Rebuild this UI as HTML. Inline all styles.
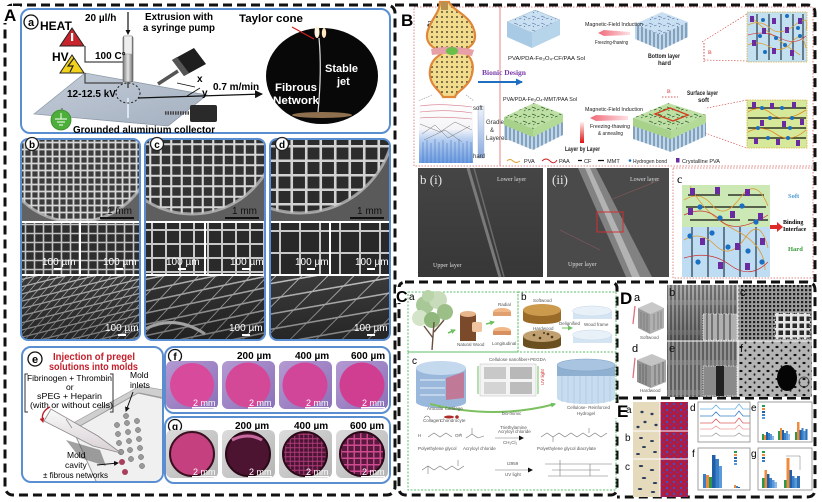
<!DOCTYPE html>
<html><head><meta charset="utf-8"><title>Figure</title>
<style>
html,body{margin:0;padding:0;background:#fff}
svg{display:block}
text{font-family:"Liberation Sans",sans-serif}
.sf{font-family:"Liberation Serif",serif}
</style></head><body>
<svg width="822" height="502" viewBox="0 0 822 502" xmlns="http://www.w3.org/2000/svg">
<defs>
<marker id="ah" markerWidth="8" markerHeight="8" refX="7" refY="4" orient="auto" markerUnits="userSpaceOnUse"><path d="M0,0 L8,4 L0,8 Z" fill="#111"/></marker>
<marker id="ahs" markerWidth="5" markerHeight="5" refX="4" refY="2.5" orient="auto" markerUnits="userSpaceOnUse"><path d="M0,0 L5,2.5 L0,5 Z" fill="#111"/></marker>
<marker id="ahr" markerWidth="5" markerHeight="5" refX="4" refY="2.5" orient="auto" markerUnits="userSpaceOnUse"><path d="M0,0 L5,2.5 L0,5 Z" fill="#c41e2a"/></marker>
<marker id="ahg" markerWidth="5" markerHeight="5" refX="4" refY="2.5" orient="auto" markerUnits="userSpaceOnUse"><path d="M0,0 L5,2.5 L0,5 Z" fill="#6cc060"/></marker>
<marker id="ahb" markerWidth="7" markerHeight="7" refX="6" refY="3.5" orient="auto" markerUnits="userSpaceOnUse"><path d="M0,0 L7,3.5 L0,7 Z" fill="#1f6fc0"/></marker>
<pattern id="g7" width="7" height="7" patternUnits="userSpaceOnUse"><rect width="7" height="7" fill="#3c3c3c"/><path d="M0 3.5H7M3.5 0V7" stroke="#d6d6d6" stroke-width="1.8"/></pattern>
<pattern id="g10" width="10.5" height="10.5" patternUnits="userSpaceOnUse"><rect width="10.5" height="10.5" fill="#333"/><path d="M0 5.25H10.5M5.25 0V10.5" stroke="#d8d8d8" stroke-width="2.1"/></pattern>
<pattern id="g14" width="14.5" height="14.5" patternUnits="userSpaceOnUse"><rect width="14.5" height="14.5" fill="#2c2c2c"/><path d="M0 7.25H14.5M7.25 0V14.5" stroke="#d2d2d2" stroke-width="2.6"/></pattern>
<pattern id="i1" width="9" height="9" patternUnits="userSpaceOnUse"><rect width="9" height="9" fill="#2e2e2e"/><path d="M0 4.5H9M4.5 0V9" stroke="#c4c4c4" stroke-width="1.6"/></pattern>
<pattern id="i2" width="14" height="14" patternUnits="userSpaceOnUse"><rect width="14" height="14" fill="#2a2a2a"/><path d="M0 7H14M7 0V14" stroke="#c8c8c8" stroke-width="2"/></pattern>
<pattern id="i3" width="20" height="22" patternUnits="userSpaceOnUse"><rect width="20" height="22" fill="#282828"/><path d="M0 4H20M10 0V22" stroke="#c8c8c8" stroke-width="2"/></pattern>
<pattern id="t1" width="10" height="7" patternUnits="userSpaceOnUse" patternTransform="rotate(-14) skewX(-55)"><rect width="10" height="7" fill="#3a3a3a"/><path d="M0 3.5H10M5 0V7" stroke="#b8b8b8" stroke-width="1.3"/></pattern>
<pattern id="t2" width="22" height="11" patternUnits="userSpaceOnUse" patternTransform="rotate(-12) skewX(-55)"><rect width="22" height="11" fill="#333"/><path d="M0 5.5H22M11 0V11" stroke="#b0b0b0" stroke-width="1.5"/></pattern>
<pattern id="t3" width="32" height="15" patternUnits="userSpaceOnUse" patternTransform="rotate(-10) skewX(-55)"><rect width="32" height="15" fill="#3a3a3a"/><path d="M0 7.5H32M16 0V15" stroke="#c0c0c0" stroke-width="1.5"/></pattern>
<pattern id="pg1" width="4.5" height="4.5" patternUnits="userSpaceOnUse"><rect width="4.5" height="4.5" fill="#4a1434"/><path d="M0 2.25H4.5M2.25 0V4.5" stroke="#b03a78" stroke-width="0.9"/></pattern>
<pattern id="pg2" width="6.5" height="6.5" patternUnits="userSpaceOnUse"><rect width="6.5" height="6.5" fill="#5a1a40"/><path d="M0 3.25H6.5M3.25 0V6.5" stroke="#d04a90" stroke-width="1.4"/></pattern>
<pattern id="vl" width="4" height="10" patternUnits="userSpaceOnUse"><rect width="4" height="10" fill="#bcd8ee"/><path d="M2 0V10" stroke="#3a4a66" stroke-width="0.8"/></pattern>
<pattern id="fibB" width="9" height="7" patternUnits="userSpaceOnUse"><rect width="9" height="7" fill="#c9e0f2"/><path d="M1 2L5 3.5M6 5L8.5 4M2 6L3 5" stroke="#4a6a9a" stroke-width="0.6"/></pattern>
<pattern id="fibG" width="9" height="7" patternUnits="userSpaceOnUse"><rect width="9" height="7" fill="#bfe0a4"/><path d="M1 2L5 3.5M6 5L8.5 4M2 6L3.5 5" stroke="#2f5f2f" stroke-width="0.7"/></pattern>
<pattern id="dots" width="5" height="5" patternUnits="userSpaceOnUse"><rect width="5" height="5" fill="#f2dc8c"/><circle cx="2" cy="2" r="0.9" fill="#2a2a1a"/></pattern>
<pattern id="spk" width="4" height="30" patternUnits="userSpaceOnUse"><rect width="4" height="30" fill="#8c8c8c"/><path d="M1 0V30" stroke="#d0d0d0" stroke-width="0.9"/><path d="M3 5V30" stroke="#4a4a4a" stroke-width="0.8"/></pattern>
<pattern id="hol" width="4" height="4" patternUnits="userSpaceOnUse"><rect width="4" height="4" fill="#cfcfcf"/><rect x="1" y="1" width="2.2" height="2.2" fill="#2a2a2a"/></pattern>
<pattern id="hol2" width="7" height="7" patternUnits="userSpaceOnUse"><rect width="7" height="7" fill="#e4e4e4"/><rect x="1.5" y="1.5" width="4.5" height="4.5" fill="#2a2a2a"/></pattern>
<pattern id="spots" width="9" height="8" patternUnits="userSpaceOnUse"><rect width="9" height="8" fill="#b4b4b4"/><ellipse cx="3" cy="3" rx="1.6" ry="1.1" fill="#111"/><ellipse cx="7.5" cy="6.5" rx="1" ry="1.3" fill="#222"/></pattern>
<pattern id="cells" width="7" height="6" patternUnits="userSpaceOnUse"><rect width="7" height="6" fill="#b01c40"/><circle cx="2" cy="2" r="1.2" fill="#3c52c8"/><circle cx="5.5" cy="4.5" r="1" fill="#5a3aa8"/></pattern>
<linearGradient id="syr" x1="0" x2="1"><stop offset="0" stop-color="#7a7a7a"/><stop offset=".5" stop-color="#e6e6e6"/><stop offset="1" stop-color="#6a6a6a"/></linearGradient>
<linearGradient id="plate" x1="0" y1="0" x2="1" y2="1"><stop offset="0" stop-color="#c3ccd8"/><stop offset="1" stop-color="#a4b0c0"/></linearGradient>
<linearGradient id="layer" x1="0" y1="0" x2="0" y2="1"><stop offset="0" stop-color="#fff"/><stop offset=".45" stop-color="#f5f5f8"/><stop offset=".62" stop-color="#b7cff0"/><stop offset="1" stop-color="#6c9ce0"/></linearGradient>
<linearGradient id="gbar" x1="0" y1="0" x2="0" y2="1"><stop offset="0" stop-color="#eef4fc"/><stop offset="1" stop-color="#88aadd"/></linearGradient>
<linearGradient id="redbar" x1="0" y1="0" x2="0" y2="1"><stop offset="0" stop-color="#fff0f0"/><stop offset="1" stop-color="#e01010"/></linearGradient>
<linearGradient id="pinkarr" x1="0" x2="1"><stop offset="0" stop-color="#f06878"/><stop offset="1" stop-color="#fde0e4"/></linearGradient>
<linearGradient id="fbg" x1="0" y1="0" x2="1" y2="1"><stop offset="0" stop-color="#b49ad2"/><stop offset="1" stop-color="#8a70b8"/></linearGradient>
<linearGradient id="gbg" x1="0" y1="0" x2="1" y2="1"><stop offset="0" stop-color="#dcdcdc"/><stop offset="1" stop-color="#b4b4b4"/></linearGradient>
<linearGradient id="semb" x1="0" y1="0" x2="0" y2="1"><stop offset="0" stop-color="#000" stop-opacity="0"/><stop offset="1" stop-color="#000" stop-opacity=".35"/></linearGradient>
<linearGradient id="pip" x1="0" y1="0" x2="0" y2="1"><stop offset="0" stop-color="#fafafa"/><stop offset="1" stop-color="#d8d0d4"/></linearGradient>
</defs>

<!-- ================= Panel A ================= -->
<rect x="5" y="5" width="390" height="490" rx="8" fill="none" stroke="#111" stroke-width="3" stroke-dasharray="9 5"/>
<rect x="3" y="6" width="17" height="17" fill="#fff"/>
<text x="4" y="21" font-size="17" font-weight="bold">A</text>

<!-- a -->
<rect x="21" y="9" width="369" height="124" rx="9" fill="#fff" stroke="#5b8ed0" stroke-width="2"/>
<circle cx="31" cy="22" r="7" fill="#fff" stroke="#111" stroke-width="1.3"/>
<text x="31" y="26" font-size="11" font-weight="bold" text-anchor="middle">a</text>
<text x="40" y="30" font-size="12" font-weight="bold">HEAT</text>
<polygon points="72,28 60,46 84,46" fill="#c8242b" stroke="#222" stroke-width="1"/>
<rect x="71" y="33" width="2.2" height="8" fill="#fff"/>
<text x="52" y="61" font-size="12" font-weight="bold">HV</text>
<polygon points="72,55 60,73 84,73" fill="#f2d21b" stroke="#222" stroke-width="1"/>
<path d="M74,58 L68,66 L73,66 L70,72" fill="none" stroke="#222" stroke-width="1.2"/>
<!-- plate -->
<polygon points="34,114 85,73 207,95 168,126" fill="url(#plate)" stroke="#8e9aa8" stroke-width="0.8"/>
<path d="M85 46V62H123M85 73V83H123" fill="none" stroke="#444" stroke-width="1.2"/>
<line x1="128" y1="98" x2="128" y2="118" stroke="#dbe6f2" stroke-width="2"/>
<rect x="123" y="36" width="10" height="46" rx="2" fill="url(#syr)" stroke="#555" stroke-width="0.6"/>
<rect x="124" y="36" width="8" height="18" fill="#eee" stroke="#999" stroke-width="0.5"/>
<rect x="127" y="82" width="2" height="6" fill="#666"/>
<line x1="128" y1="12" x2="128" y2="34" stroke="#111" stroke-width="1.2" marker-end="url(#ahs)"/>
<text x="85" y="21" font-size="10" font-weight="bold">20 µl/h</text>
<text x="145" y="20" font-size="10" font-weight="bold" textLength="68" lengthAdjust="spacingAndGlyphs">Extrusion with</text>
<text x="143" y="31" font-size="10" font-weight="bold" textLength="72" lengthAdjust="spacingAndGlyphs">a syringe pump</text>
<text x="95" y="59" font-size="10" font-weight="bold">100 C°</text>
<text x="67" y="97" font-size="10" font-weight="bold">12-12.5 kV</text>
<ellipse cx="128" cy="93" rx="12" ry="10" fill="none" stroke="#222" stroke-width="1" stroke-dasharray="2 2"/>
<line x1="138" y1="98" x2="262" y2="94" stroke="#111" stroke-width="1.2" marker-end="url(#ah)"/>
<line x1="158" y1="84" x2="178" y2="71" stroke="#555" stroke-width="3.5"/>
<polygon points="172,60 194,48 206,64 184,76" fill="#1e1e1e"/>
<polygon points="172,60 177,57 189,73 184,76" fill="#555"/>
<line x1="165" y1="113" x2="191" y2="113" stroke="#444" stroke-width="3.5" stroke-dasharray="1.5 1"/>
<rect x="190" y="105" width="27" height="17" rx="2" fill="#2a2a2a"/>
<line x1="177" y1="83" x2="195" y2="87" stroke="#111" stroke-width="0.8"/>
<line x1="187" y1="96" x2="200" y2="88" stroke="#111" stroke-width="0.8"/>
<text x="197" y="82" font-size="10" font-weight="bold">x</text>
<text x="202" y="96" font-size="10" font-weight="bold">y</text>
<text x="213" y="90" font-size="10" font-weight="bold">0.7 m/min</text>
<line x1="62" y1="108" x2="62" y2="112" stroke="#555" stroke-width="1"/>
<circle cx="61" cy="120" r="10" fill="#4caf3a" stroke="#3a8a2a" stroke-width="0.8"/>
<path d="M61 113V119M55 119H67M57 122H65M59 125H63" stroke="#fff" stroke-width="1"/>
<text x="73" y="133" font-size="10" font-weight="bold" textLength="142" lengthAdjust="spacingAndGlyphs">Grounded aluminium collector</text>
<ellipse cx="322" cy="76" rx="56" ry="48" fill="#080808"/>
<ellipse cx="322" cy="115" rx="30" ry="3" fill="#b08a60" opacity=".8"/>
<path d="M319 38 Q322 70 318 112" stroke="#e0e0e0" stroke-width="1.2" fill="none"/>
<ellipse cx="317" cy="32" rx="2.5" ry="6" fill="#fff4dc"/>
<ellipse cx="324" cy="33" rx="2.2" ry="5" fill="#ffe8c0"/>
<line x1="292" y1="27" x2="314" y2="39" stroke="#d02020" stroke-width="1.2"/>
<text x="239" y="22" font-size="11" font-weight="bold" textLength="64" lengthAdjust="spacingAndGlyphs">Taylor cone</text>
<text x="325" y="72" font-size="11" font-weight="bold" fill="#fff">Stable</text>
<text x="337" y="85" font-size="11" font-weight="bold" fill="#fff">jet</text>
<text x="275" y="91" font-size="11" font-weight="bold" fill="#fff" textLength="42" lengthAdjust="spacingAndGlyphs">Fibrous</text>
<text x="273" y="104" font-size="11" font-weight="bold" fill="#fff" textLength="46" lengthAdjust="spacingAndGlyphs">Network</text>

<!-- b -->
<g transform="translate(21,139)">
<clipPath id="cpb"><rect width="119" height="201" rx="7"/></clipPath>
<g clip-path="url(#cpb)">
<rect width="119" height="201" fill="#626262"/>
<circle cx="55" cy="5" r="78" fill="url(#g7)" stroke="#c8c8c8" stroke-width="3" stroke-opacity=".7"/>
<rect y="82" width="119" height="55" fill="url(#i1)"/>
<path d="M0 83H119M0 136H119M59 83V136" stroke="#fff" stroke-width="2"/>
<rect y="137" width="119" height="64" fill="url(#t1)"/>
<rect y="137" width="119" height="64" fill="url(#semb)"/>
</g>
<rect width="119" height="201" rx="7" fill="none" stroke="#5b8ed0" stroke-width="2"/>
<circle cx="11" cy="5" r="6.5" fill="#fff" stroke="#222" stroke-width="1.3"/>
<text x="11" y="9" font-size="10" font-weight="bold" text-anchor="middle">b</text>
<text x="86" y="75" font-size="10" fill="#111">1 mm</text>
<rect x="79" y="78" width="34" height="2" fill="#111"/>
<text x="21" y="126" font-size="10" fill="#fff">100 µm</text><rect x="33" y="129" width="8" height="2" fill="#fff"/>
<text x="82" y="126" font-size="10" fill="#fff">100 µm</text><rect x="94" y="129" width="8" height="2" fill="#fff"/>
<text x="84" y="192" font-size="10" fill="#fff">100 µm</text><rect x="97" y="195" width="8" height="2" fill="#fff"/>
</g>

<!-- c -->
<g transform="translate(145,139)">
<clipPath id="cpc"><rect width="120" height="201" rx="7"/></clipPath>
<g clip-path="url(#cpc)">
<rect width="120" height="201" fill="#5e5e5e"/>
<circle cx="47" cy="-11" r="86" fill="url(#g10)" stroke="#c8c8c8" stroke-width="3" stroke-opacity=".7"/>
<rect y="82" width="120" height="55" fill="url(#i2)"/>
<path d="M0 83H120M0 136H120M60 83V136" stroke="#fff" stroke-width="2"/>
<rect y="137" width="120" height="64" fill="url(#t2)"/>
<path d="M0 190 Q30 175 60 195" stroke="#ddd" stroke-width="3" fill="none"/>
<rect y="137" width="120" height="64" fill="url(#semb)"/>
</g>
<rect width="120" height="201" rx="7" fill="none" stroke="#5b8ed0" stroke-width="2"/>
<circle cx="12" cy="5" r="6.5" fill="#fff" stroke="#222" stroke-width="1.3"/>
<text x="12" y="9" font-size="10" font-weight="bold" text-anchor="middle">c</text>
<text x="87" y="75" font-size="10" fill="#111">1 mm</text>
<rect x="80" y="78" width="34" height="2" fill="#111"/>
<text x="21" y="126" font-size="10" fill="#fff">100 µm</text><rect x="33" y="129" width="8" height="2" fill="#fff"/>
<text x="85" y="126" font-size="10" fill="#fff">100 µm</text><rect x="97" y="129" width="8" height="2" fill="#fff"/>
<text x="84" y="192" font-size="10" fill="#fff">100 µm</text><rect x="97" y="195" width="8" height="2" fill="#fff"/>
</g>

<!-- d -->
<g transform="translate(270,139)">
<clipPath id="cpd"><rect width="120" height="201" rx="7"/></clipPath>
<g clip-path="url(#cpd)">
<rect width="120" height="201" fill="#5a5a5a"/>
<circle cx="30" cy="-21" r="95" fill="url(#g14)" stroke="#c8c8c8" stroke-width="3" stroke-opacity=".7"/>
<rect y="82" width="120" height="55" fill="url(#i3)"/>
<path d="M0 83H120M0 136H120M60 83V136" stroke="#fff" stroke-width="2"/>
<rect y="137" width="120" height="64" fill="url(#t3)"/>
<rect y="137" width="120" height="64" fill="url(#semb)"/>
</g>
<rect width="120" height="201" rx="7" fill="none" stroke="#5b8ed0" stroke-width="2"/>
<circle cx="12" cy="5" r="6.5" fill="#fff" stroke="#222" stroke-width="1.3"/>
<text x="12" y="9" font-size="10" font-weight="bold" text-anchor="middle">d</text>
<text x="87" y="75" font-size="10" fill="#111">1 mm</text>
<rect x="80" y="78" width="34" height="2" fill="#111"/>
<text x="25" y="126" font-size="10" fill="#fff">100 µm</text><rect x="37" y="129" width="8" height="2" fill="#fff"/>
<text x="85" y="126" font-size="10" fill="#fff">100 µm</text><rect x="97" y="129" width="8" height="2" fill="#fff"/>
<text x="84" y="192" font-size="10" fill="#fff">100 µm</text><rect x="97" y="195" width="8" height="2" fill="#fff"/>
</g>

<!-- e -->
<rect x="22" y="347" width="141" height="135" rx="9" fill="#fff" stroke="#5b8ed0" stroke-width="2"/>
<clipPath id="cpe"><rect x="23" y="348" width="139" height="133" rx="8"/></clipPath>
<g clip-path="url(#cpe)">
<polygon points="75,422 140,386 170,391 170,399 140,393 73,430" fill="#cfcfcf" stroke="#999" stroke-width="0.6"/>
<polygon points="73,430 138,393 170,400 170,490 100,490" fill="#f0f0f0" stroke="#999" stroke-width="1"/>
<polygon points="66,440 100,450 106,466 80,458" fill="#555" opacity=".55"/>
<g fill="#9a9a9a" stroke="#666" stroke-width="0.5">
<circle cx="126" cy="416" r="2.6"/>
<circle cx="117" cy="425" r="2.6"/><circle cx="127" cy="423" r="2.6"/><circle cx="137" cy="421" r="2.6"/>
<circle cx="118" cy="434" r="2.6"/><circle cx="128" cy="432" r="2.6"/><circle cx="138" cy="430" r="2.6"/>
<circle cx="119" cy="443" r="2.6"/><circle cx="129" cy="441" r="2.6"/><circle cx="139" cy="439" r="2.6"/>
<circle cx="130" cy="450" r="2.6"/><circle cx="140" cy="448" r="2.6"/>
<circle cx="131" cy="459" r="2.6"/><circle cx="141" cy="457" r="2.6"/>
<circle cx="142" cy="466" r="2.6"/>
</g>
<circle cx="121" cy="452" r="2.8" fill="#9a9a9a" stroke="#666" stroke-width="0.5"/>
<circle cx="122" cy="462" r="3" fill="#a8405c"/>
<circle cx="125" cy="472" r="3" fill="#a8405c"/>
</g>
<polygon points="44,421 51,409 98,436 121,453 93,446" fill="url(#pip)" stroke="#8a8a8a" stroke-width="0.8"/>
<path d="M66 419L72 428" stroke="#888" stroke-width="0.7"/>
<path d="M50 407 Q40 412 43 422" fill="none" stroke="#c41e2a" stroke-width="1.3" marker-end="url(#ahr)"/>
<circle cx="35" cy="359" r="7" fill="#fff" stroke="#111" stroke-width="1.3"/>
<text x="35" y="363" font-size="11" font-weight="bold" text-anchor="middle">e</text>
<text x="53" y="360" font-size="10" font-weight="bold" fill="#c41e2a" textLength="82" lengthAdjust="spacingAndGlyphs">Injection of pregel</text>
<text x="49" y="370" font-size="10" font-weight="bold" fill="#c41e2a" textLength="89" lengthAdjust="spacingAndGlyphs">solutions into molds</text>
<path d="M28 374H25V412H28M110 374H113V412H110" fill="none" stroke="#333" stroke-width="1"/>
<text x="27" y="381" font-size="8.5" textLength="85" lengthAdjust="spacingAndGlyphs">Fibrinogen + Thrombin</text>
<text x="66" y="390" font-size="8.5">or</text>
<text x="37" y="399" font-size="8.5" textLength="65" lengthAdjust="spacingAndGlyphs">sPEG + Heparin</text>
<text x="30" y="408" font-size="8.5" textLength="83" lengthAdjust="spacingAndGlyphs">(with or without cells)</text>
<text x="130" y="378" font-size="8.5">Mold</text>
<text x="130" y="388" font-size="8.5">inlets</text>
<line x1="133" y1="392" x2="126" y2="411" stroke="#111" stroke-width="1" marker-end="url(#ahs)"/>
<line x1="97" y1="465" x2="118" y2="463" stroke="#111" stroke-width="1" marker-end="url(#ahs)"/>
<text x="67" y="458" font-size="8.5">Mold</text>
<text x="65" y="468" font-size="8.5">cavity</text>
<text x="43" y="478" font-size="8.5" textLength="65" lengthAdjust="spacingAndGlyphs">± fibrous networks</text>

<!-- f -->
<rect x="165" y="347" width="225" height="66" rx="9" fill="#fff" stroke="#5b8ed0" stroke-width="2"/>
<circle cx="175" cy="356" r="6.5" fill="#fff" stroke="#111" stroke-width="1.3"/>
<text x="175" y="360" font-size="10" font-weight="bold" text-anchor="middle">f</text>
<text x="237" y="359" font-size="10" font-weight="bold">200 µm</text>
<text x="295" y="359" font-size="10" font-weight="bold">400 µm</text>
<text x="351" y="359" font-size="10" font-weight="bold">600 µm</text>
<g>
<rect x="166" y="361" width="52" height="48" rx="6" fill="url(#fbg)"/><circle cx="192" cy="385" r="22" fill="#d84a9c"/>
<rect x="222" y="361" width="53" height="48" rx="6" fill="url(#fbg)"/><circle cx="248" cy="385" r="22.5" fill="#d44898"/>
<rect x="279" y="361" width="53" height="48" rx="6" fill="url(#fbg)"/><circle cx="305" cy="385" r="22.5" fill="#d2469a"/>
<rect x="336" y="361" width="52" height="48" rx="6" fill="url(#fbg)"/><circle cx="362" cy="385" r="22.5" fill="#d03e92"/>
</g>
<g font-size="9" fill="#fff">
<text x="193" y="406">2 mm</text><rect x="192" y="407" width="24" height="1.5" fill="#fff"/>
<text x="249" y="406">2 mm</text><rect x="248" y="407" width="24" height="1.5" fill="#fff"/>
<text x="306" y="406">2 mm</text><rect x="305" y="407" width="24" height="1.5" fill="#fff"/>
<text x="362" y="406">2 mm</text><rect x="361" y="407" width="24" height="1.5" fill="#fff"/>
</g>

<!-- g -->
<rect x="165" y="417" width="225" height="66" rx="9" fill="#fff" stroke="#5b8ed0" stroke-width="2"/>
<circle cx="175" cy="426" r="6.5" fill="#fff" stroke="#111" stroke-width="1.3"/>
<text x="175" y="430" font-size="10" font-weight="bold" text-anchor="middle">g</text>
<text x="235" y="429" font-size="10" font-weight="bold">200 µm</text>
<text x="294" y="429" font-size="10" font-weight="bold">400 µm</text>
<text x="350" y="429" font-size="10" font-weight="bold">600 µm</text>
<rect x="166" y="430" width="52" height="48" rx="6" fill="url(#gbg)"/>
<circle cx="192" cy="454" r="22" fill="#c4407e" stroke="#3a1020" stroke-width="2"/>
<rect x="222" y="430" width="53" height="48" rx="6" fill="url(#gbg)"/>
<circle cx="248" cy="454" r="22" fill="#4c1430" stroke="#2a0a18" stroke-width="2"/>
<path d="M232 440 Q248 432 262 440" stroke="#c86aa0" stroke-width="3" fill="none"/>
<rect x="279" y="430" width="53" height="48" rx="6" fill="url(#gbg)"/>
<circle cx="305" cy="454" r="22" fill="url(#pg1)" stroke="#2a0a18" stroke-width="2"/>
<rect x="336" y="430" width="52" height="48" rx="6" fill="url(#gbg)"/>
<circle cx="362" cy="454" r="22" fill="url(#pg2)" stroke="#2a0a18" stroke-width="2"/>
<g font-size="9" fill="#fff">
<text x="193" y="475">2 mm</text><rect x="192" y="476" width="24" height="1.5" fill="#fff"/>
<text x="249" y="475">2 mm</text><rect x="248" y="476" width="24" height="1.5" fill="#fff"/>
<text x="306" y="475">2 mm</text><rect x="305" y="476" width="24" height="1.5" fill="#fff"/>
<text x="362" y="475">2 mm</text><rect x="361" y="476" width="24" height="1.5" fill="#fff"/>
</g>

<!-- ================= Panel B ================= -->
<path d="M395 5H807Q815 5 815 13V282" fill="none" stroke="#111" stroke-width="3" stroke-dasharray="9 5"/>
<text x="401" y="26" font-size="17" font-weight="bold">B</text>
<rect x="414" y="7" width="399" height="159" fill="none" stroke="#e08a8a" stroke-width="1" stroke-dasharray="1.5 1.5"/>
<line x1="500" y1="7" x2="500" y2="166" stroke="#e07a7a" stroke-width="0.9"/>
<text x="427" y="27" font-size="13" class="sf">a</text>
<!-- joint -->
<path d="M440,2 L449,2 C452,10 470,15 474,30 C478,42 470,48 462,51 C472,56 476,66 470,80 C464,90 456,92 455,97 L443,97 C440,90 428,85 430,70 C431,60 438,56 444,52 C432,49 424,42 428,30 C432,18 440,12 440,2 Z" fill="url(#dots)" stroke="#e0883a" stroke-width="2.2"/>
<path d="M431 49 Q452 44 474 50 L472 56 Q452 52 432 55 Z" fill="#e8a0a8"/>
<ellipse cx="452" cy="51" rx="6" ry="4" fill="#6abf4a"/>
<rect x="441" y="2" width="7" height="8" fill="#b89050"/>
<path d="M432 95L418 101M466 95L474 101" stroke="#999" stroke-width="0.6" stroke-dasharray="1.5 1"/>
<rect x="419" y="101" width="54" height="62" fill="url(#layer)"/>
<path d="M420 106Q440 103 472 107M420 112Q446 109 472 113M420 118Q440 116 472 119" stroke="#d47a8a" stroke-width="0.6" fill="none"/>
<path d="M420 124L440 132L455 122L472 130M422 134L435 125L448 138L470 126M424 140L445 130L462 142" stroke="#777" stroke-width="0.5" fill="none"/>
<path d="M423 163V142M427 163V140M431 163V143M435 163V139M439 163V142M443 163V140M447 163V143M451 163V140M455 163V142M459 163V139M463 163V143M467 163V141M471 163V142" stroke="#3a6ac0" stroke-width="0.5"/>
<rect x="478" y="106" width="6" height="52" fill="url(#gbar)" stroke="#aac" stroke-width="0.4"/>
<g class="sf" font-size="6" fill="#333">
<text x="473" y="110">soft</text>
<text x="486" y="124">Gradient</text><text x="490" y="132">&amp;</text><text x="486" y="140">Layered</text>
<text x="473" y="158">hard</text>
</g>
<text x="482" y="75" class="sf" font-size="7.5" font-weight="bold" fill="#7a3aa8">Bionic  Design</text>
<line x1="478" y1="82" x2="522" y2="82" stroke="#1f6fc0" stroke-width="2" marker-end="url(#ahb)"/>
<!-- blocks -->
<polygon points="507,22 535,10 560,20 532,33" fill="url(#fibB)" stroke="#8ab" stroke-width="0.4"/>
<polygon points="507,22 532,33 532,48 507,37" fill="#a8cae4"/>
<polygon points="532,33 560,20 560,35 532,48" fill="#b6d4ea"/>
<polygon points="635,24 662,12 688,22 661,35" fill="url(#fibB)"/>
<polygon points="635,24 661,35 661,50 635,39" fill="url(#vl)"/>
<polygon points="661,35 688,22 688,37 661,50" fill="url(#vl)"/>
<polygon points="504,117 534,103 563,114 533,129" fill="url(#fibG)"/>
<polygon points="504,117 533,129 533,150 504,138" fill="url(#vl)"/>
<polygon points="533,129 563,114 563,135 533,150" fill="url(#vl)"/>
<polygon points="504,117 533,129 533,137 504,125" fill="#a8d28a"/>
<polygon points="533,129 563,114 563,122 533,137" fill="#b4da98"/>
<polygon points="633,118 668,103 706,115 671,131" fill="url(#fibG)"/>
<polygon points="633,118 671,131 671,152 633,139" fill="url(#vl)"/>
<polygon points="671,131 706,115 706,136 671,152" fill="url(#vl)"/>
<polygon points="633,118 671,131 671,139 633,126" fill="#a8d28a"/>
<polygon points="671,131 706,115 706,123 671,139" fill="#b4da98"/>
<polygon points="655,114 670,108 688,115 673,121" fill="none" stroke="#d04020" stroke-width="1.4"/>
<g class="sf" font-size="5.6" fill="#222">
<text x="508" y="60" textLength="77" lengthAdjust="spacingAndGlyphs">PVA/PDA-Fe₃O₄-CF/PAA Sol</text>
<text x="585" y="26" textLength="58" lengthAdjust="spacingAndGlyphs">Magnetic-Field Induction</text>
<text x="595" y="44" textLength="33" lengthAdjust="spacingAndGlyphs">Freezing-thawing</text>
<text x="503" y="101" textLength="74" lengthAdjust="spacingAndGlyphs">PVA/PDA-Fe₃O₄-MMT/PAA Sol</text>
<text x="585" y="111" textLength="58" lengthAdjust="spacingAndGlyphs">Magnetic-Field Induction</text>
<text x="590" y="128" textLength="40" lengthAdjust="spacingAndGlyphs">Freezing-thawing</text>
<text x="598" y="135" textLength="25" lengthAdjust="spacingAndGlyphs">&amp; annealing</text>
</g>
<g class="sf" font-size="6" font-weight="bold" fill="#222">
<text x="648" y="58" textLength="32" lengthAdjust="spacingAndGlyphs">Bottom layer</text>
<text x="658" y="65">hard</text>
<text x="565" y="151" textLength="35" lengthAdjust="spacingAndGlyphs">Layer by Layer</text>
<text x="687" y="95" textLength="31" lengthAdjust="spacingAndGlyphs">Surface layer</text>
<text x="698" y="102">soft</text>
</g>
<polygon points="598,33 604,30 630,32 630,35 604,36" fill="url(#pinkarr)"/>
<polygon points="590,118 596,115 628,116 628,120 596,121" fill="url(#pinkarr)"/>
<rect x="580" y="122" width="4" height="21" fill="url(#redbar)"/>
<line x1="704" y1="43" x2="704" y2="62" stroke="#d02020" stroke-width="0.8" stroke-dasharray="1.5 1.5"/>
<text x="708" y="54" class="sf" font-size="5.5" fill="#d02020">B</text>
<line x1="662" y1="97" x2="678" y2="97" stroke="#d02020" stroke-width="0.8" stroke-dasharray="1.5 1.5"/>
<text x="667" y="93" class="sf" font-size="5.5" fill="#d02020">B</text>
<path d="M702 42L747 14M704 60L747 61M707 108L747 100M705 133L747 148" stroke="#d04040" stroke-width="0.6" stroke-dasharray="1.5 1.5"/>
<!-- insets -->
<rect x="747" y="12" width="60" height="50" fill="#c2e0f0" stroke="#d8b040" stroke-width="0.8" stroke-dasharray="1.5 1"/>
<path d="M757 14V60M769 14V60M781 14V60M793 14V60M803 14V60" stroke="#1a2a3a" stroke-width="1.1"/>
<path d="M748 25Q760 19 770 28T795 25T806 30M748 45Q758 40 770 47T792 42T806 48M750 16Q770 35 800 55" stroke="#e0a030" stroke-width="0.8" fill="none"/>
<path d="M748 35Q765 30 780 38T806 36" stroke="#d04040" stroke-width="0.7" fill="none"/>
<g fill="#6a2aa0"><rect x="750" y="16" width="4" height="6"/><rect x="772" y="18" width="4" height="6"/><rect x="785" y="27" width="4" height="6"/><rect x="752" y="40" width="4" height="6"/><rect x="772" y="48" width="4" height="6"/><rect x="790" y="50" width="4" height="6"/><rect x="798" y="18" width="4" height="6"/><rect x="762" y="28" width="4" height="6"/></g>
<g fill="#1a70c0"><circle cx="763" cy="20" r="2"/><circle cx="787" cy="16" r="2"/><circle cx="760" cy="36" r="2"/><circle cx="776" cy="38" r="2"/><circle cx="800" cy="36" r="2"/><circle cx="765" cy="52" r="2"/><circle cx="785" cy="45" r="2"/><circle cx="798" cy="28" r="2"/></g>
<rect x="747" y="100" width="60" height="48" fill="#d6e89a" stroke="#d8b040" stroke-width="0.8" stroke-dasharray="1.5 1"/>
<path d="M748 108H806M748 118H806M748 128H806M748 138H806" stroke="#111" stroke-width="1.2"/>
<path d="M748 112Q760 104 772 114T806 110M748 132Q762 124 776 134T806 130" stroke="#e08a20" stroke-width="0.8" fill="none"/>
<g fill="#6a2aa0"><rect x="752" y="102" width="4" height="6"/><rect x="770" y="103" width="4" height="6"/><rect x="792" y="102" width="4" height="6"/><rect x="760" y="120" width="4" height="6"/><rect x="782" y="121" width="4" height="6"/><rect x="800" y="119" width="4" height="6"/><rect x="754" y="138" width="4" height="6"/><rect x="776" y="139" width="4" height="6"/><rect x="796" y="140" width="4" height="6"/></g>
<g fill="#1a70c0"><circle cx="762" cy="108" r="2"/><circle cx="782" cy="108" r="2"/><circle cx="770" cy="118" r="2"/><circle cx="792" cy="118" r="2"/><circle cx="758" cy="128" r="2"/><circle cx="790" cy="128" r="2"/><circle cx="768" cy="138" r="2"/><circle cx="788" cy="138" r="2"/></g>
<!-- legend -->
<path d="M507 161Q510 158 513 161T520 161" stroke="#e0a030" stroke-width="0.9" fill="none"/>
<path d="M542 161Q546 157 550 161T557 160" stroke="#d02020" stroke-width="0.9" fill="none"/>
<path d="M578 160.5H582M598 160.5H604" stroke="#111" stroke-width="1.3"/>
<circle cx="630" cy="160.5" r="1.3" fill="#1a70c0"/>
<rect x="676" y="158" width="3.5" height="4.5" fill="#6a2aa0"/>
<g class="sf" font-size="5.6" fill="#222">
<text x="524" y="163">PVA</text><text x="559" y="163">PAA</text><text x="584" y="163">CF</text><text x="607" y="163">MMT</text>
<text x="633" y="163" textLength="34" lengthAdjust="spacingAndGlyphs">Hydrogen bond</text>
<text x="682" y="163" textLength="38" lengthAdjust="spacingAndGlyphs">Crystalline PVA</text>
</g>
<!-- b(i) b(ii) -->
<rect x="418" y="168" width="125" height="109" fill="#454545"/>
<rect x="418" y="168" width="125" height="109" fill="url(#semb)" opacity=".6"/>
<path d="M468 168L500 277" stroke="#8a8a8a" stroke-width="3" opacity=".8"/>
<path d="M474 168L504 277" stroke="#6a6a6a" stroke-width="1.5"/>
<text x="420" y="184" class="sf" font-size="13" fill="#e6e6e6">b (i)</text>
<text x="497" y="181" class="sf" font-size="6" fill="#ddd">Lower layer</text>
<text x="433" y="267" class="sf" font-size="6" fill="#ddd">Upper layer</text>
<rect x="547" y="168" width="122" height="109" fill="#4a4a4a"/>
<polygon points="578,168 596,168 652,277 626,277" fill="#8c8c8c" opacity=".85"/>
<polygon points="585,168 590,168 640,277 632,277" fill="#c8c8c8" opacity=".7"/>
<path d="M610 200L660 180M560 230L600 250" stroke="#a06060" stroke-width="0.6" opacity=".7"/>
<rect x="597" y="212" width="26" height="20" fill="none" stroke="#d03030" stroke-width="1"/>
<text x="552" y="184" class="sf" font-size="13" fill="#e6e6e6">(ii)</text>
<text x="630" y="181" class="sf" font-size="6" fill="#ddd">Lower layer</text>
<text x="568" y="266" class="sf" font-size="6" fill="#ddd">Upper layer</text>
<!-- c -->
<rect x="673" y="168" width="140" height="110" fill="none" stroke="#e08a8a" stroke-width="1" stroke-dasharray="1.5 1.5"/>
<text x="677" y="183" class="sf" font-size="12">c</text>
<rect x="682" y="185" width="88" height="42" fill="#cce8b4"/>
<rect x="682" y="227" width="88" height="50" fill="#bedcf2"/>
<path d="M688 195H720M728 195H764M686 207H766M690 220H740M748 220H768" stroke="#111" stroke-width="1.2"/>
<path d="M692 227V277M708 227V277M724 227V277M740 227V277M756 227V277" stroke="#1a2a3a" stroke-width="1.1"/>
<path d="M684 200Q700 190 712 205T740 198T768 206M684 240Q700 230 715 245T745 238T768 248M690 186Q705 215 735 230T765 270" stroke="#e09a30" stroke-width="0.8" fill="none"/>
<path d="M684 215Q705 205 720 220T768 215M684 258Q710 250 730 265T768 262" stroke="#c83030" stroke-width="0.7" fill="none"/>
<g fill="#6a2aa0"><rect x="690" y="188" width="5" height="7"/><rect x="715" y="187" width="5" height="7"/><rect x="745" y="189" width="5" height="7"/><rect x="688" y="208" width="5" height="7"/><rect x="730" y="211" width="5" height="7"/><rect x="758" y="213" width="5" height="7"/><rect x="700" y="238" width="5" height="7"/><rect x="735" y="243" width="5" height="7"/><rect x="760" y="238" width="5" height="7"/><rect x="718" y="262" width="5" height="7"/><rect x="745" y="263" width="5" height="7"/></g>
<g fill="#1a70c0"><circle cx="700" cy="207" r="2.6"/><circle cx="720" cy="218" r="2.6"/><circle cx="742" cy="206" r="2.6"/><circle cx="756" cy="222" r="2.6"/><circle cx="712" cy="233" r="2.6"/><circle cx="728" cy="247" r="2.6"/><circle cx="748" cy="251" r="2.6"/><circle cx="698" cy="262" r="2.6"/><circle cx="762" cy="262" r="2.6"/><circle cx="690" cy="236" r="2.6"/></g>
<polygon points="770,225 777,225 777,222 783,227 777,232 777,229 770,229" fill="#e02a2a"/>
<text x="788" y="198" class="sf" font-size="6.5" font-weight="bold" fill="#4a9ad0">Soft</text>
<text x="783" y="224" class="sf" font-size="6" font-weight="bold">Binding</text>
<text x="783" y="231" class="sf" font-size="6" font-weight="bold">Interface</text>
<text x="788" y="251" class="sf" font-size="6.5" font-weight="bold" fill="#3a9a3a">Hard</text>

<!-- ================= Panel C ================= -->
<rect x="399" y="282" width="218" height="213" rx="6" fill="none" stroke="#111" stroke-width="3" stroke-dasharray="9 5"/>
<rect x="396" y="287" width="12" height="16" fill="#fff"/>
<text x="396" y="302" font-size="16" font-weight="bold">C</text>
<text x="409" y="300" font-size="10">a</text>
<rect x="408" y="292" width="110" height="60" fill="none" stroke="#5cbf6a" stroke-width="1" stroke-dasharray="2 1.5"/>
<rect x="518" y="292" width="98" height="60" fill="none" stroke="#5cbf6a" stroke-width="1" stroke-dasharray="2 1.5"/>
<rect x="408" y="352" width="208" height="138" fill="none" stroke="#5cbf6a" stroke-width="1" stroke-dasharray="2 1.5"/>
<!-- tree -->
<g>
<circle cx="425" cy="305" r="9" fill="#a8c898"/><circle cx="438" cy="300" r="9" fill="#c8dcbc"/><circle cx="445" cy="312" r="8" fill="#9cbf88"/><circle cx="420" cy="318" r="8" fill="#d4e4c8"/><circle cx="432" cy="320" r="8" fill="#90b87c"/><circle cx="428" cy="296" r="6" fill="#b8d4a8"/>
<path d="M432 350L434 322M434 332L444 320M433 338L424 326" stroke="#6a5040" stroke-width="1.4" fill="none"/>
</g>
<line x1="448" y1="333" x2="455" y2="330" stroke="#6cc060" stroke-width="1.5" marker-end="url(#ahg)"/>
<rect x="460" y="314" width="16" height="27" fill="#7a4a2a"/>
<ellipse cx="468" cy="314" rx="8" ry="3" fill="#e8b48a"/>
<rect x="472" y="322" width="10" height="10" rx="2" fill="#f0c4a0"/>
<line x1="486" y1="324" x2="494" y2="322" stroke="#6cc060" stroke-width="1.5" marker-end="url(#ahg)"/>
<ellipse cx="502" cy="312" rx="9" ry="4" fill="#f0b888"/><rect x="493" y="312" width="18" height="4" fill="#e0a070"/>
<ellipse cx="502" cy="331" rx="9" ry="4" fill="#f0b888"/><rect x="493" y="331" width="18" height="4" fill="#d89060"/>
<g font-size="4.5" fill="#555"><text x="498" y="306">Radial</text><text x="457" y="346">Natural Wood</text><text x="492" y="345">Longitudinal</text></g>
<text x="521" y="300" font-size="10">b</text>
<rect x="523" y="310" width="38" height="10" fill="#9a6a28"/><ellipse cx="542" cy="320" rx="19" ry="4" fill="#9a6a28"/><ellipse cx="542" cy="310" rx="19" ry="6" fill="#cc9a4c"/>
<rect x="523" y="336" width="38" height="9" fill="#6a5020"/><ellipse cx="542" cy="345" rx="19" ry="4" fill="#6a5020"/><ellipse cx="542" cy="336" rx="19" ry="6" fill="#c0a070"/>
<g fill="#4a3a1a"><circle cx="534" cy="335" r="1.3"/><circle cx="540" cy="338" r="1.3"/><circle cx="548" cy="334" r="1.3"/><circle cx="552" cy="337" r="1.3"/><circle cx="544" cy="333" r="1"/></g>
<rect x="573" y="311" width="39" height="8" fill="#d4e4f2"/><ellipse cx="592" cy="311" rx="19.5" ry="5" fill="#e8f0f8" stroke="#c8d8ea" stroke-width="0.5"/>
<rect x="573" y="335" width="39" height="8" fill="#d4e4f2"/><ellipse cx="592" cy="335" rx="19.5" ry="5" fill="#e8f0f8" stroke="#c8d8ea" stroke-width="0.5"/>
<line x1="562" y1="328" x2="572" y2="328" stroke="#6cc060" stroke-width="1" marker-end="url(#ahg)"/>
<g font-size="4.5" fill="#555"><text x="533" y="302">Softwood</text><text x="533" y="330">Hardwood</text><text x="559" y="325">Delignified</text><text x="584" y="326">Wood frame</text></g>
<text x="412" y="364" font-size="10">c</text>
<!-- cartilage -->
<rect x="416" y="368" width="50" height="34" fill="#9ab8dc"/>
<ellipse cx="441" cy="402" rx="25" ry="6" fill="#9ab8dc"/>
<ellipse cx="441" cy="368" rx="25" ry="7" fill="#c4d8ee"/>
<path d="M446 378L464 372V398L446 400Z" fill="#d0607a" opacity=".7"/>
<path d="M420 380H445M420 388H445M420 395H445" stroke="#e8f0f8" stroke-width="1"/>
<!-- middle squares -->
<rect x="480" y="364" width="56" height="32" fill="#f4f4f4" stroke="#bbb" stroke-width="0.5"/>
<rect x="484" y="367" width="22" height="12" fill="#c8c8c8"/><rect x="510" y="367" width="22" height="12" fill="#b8b8b8"/>
<rect x="484" y="382" width="22" height="12" fill="#d4d4d4"/><rect x="510" y="382" width="22" height="12" fill="#bcbcbc"/>
<path d="M478 394V366M538 366V394" stroke="#6cc060" stroke-width="1"/>
<text x="489" y="361" font-size="4.5" fill="#555">Cellulose nanofiber+PEGDA</text>
<text x="544" y="385" font-size="4.5" fill="#d03030" transform="rotate(-90 544 385)">UV light</text>
<!-- right cylinder -->
<rect x="557" y="368" width="58" height="30" fill="#c8dcf0"/>
<ellipse cx="586" cy="398" rx="29" ry="6" fill="#c8dcf0"/>
<path d="M562 376V402M568 376V403M574 376V404M580 376V404M586 376V404M592 376V404M598 376V404M604 376V403M610 376V402" stroke="#a8c4e0" stroke-width="0.6"/>
<rect x="557" y="365" width="58" height="11" fill="#8fb0d0"/>
<ellipse cx="586" cy="365" rx="29" ry="6" fill="#a8c4e0" stroke="#7fa0c4" stroke-width="0.5"/>
<path d="M430 404Q495 420 555 404" stroke="#7cc060" stroke-width="2" fill="none" marker-end="url(#ahg)"/>
<g font-size="4.5" fill="#555">
<text x="427" y="410">Articular Cartilage</text>
<text x="423" y="422">Collagen</text><text x="440" y="422">Chondrocyte</text>
<text x="502" y="415">bio-mimic</text>
<text x="567" y="409">Cellulose- Reinforced</text><text x="577" y="415">Hydrogel</text>
</g>
<path d="M424 418Q427 414 430 418" stroke="#555" stroke-width="0.6" fill="none"/>
<ellipse cx="449" cy="417" rx="5" ry="1.5" fill="#b02a2a"/><circle cx="457" cy="417" r="1.8" fill="#b02a2a"/>
<!-- chemistry -->
<g stroke="#777" stroke-width="0.6" fill="none">
<path d="M428 437L434 433L440 437L446 433L452 437"/>
<path d="M466 438L472 434L478 438M472 434V428M478 438L484 436"/>
<line x1="495" y1="438" x2="523" y2="438" marker-end="url(#ahs)"/>
<path d="M541 437L547 433L553 437L559 433L565 437L571 433L577 437L583 433L589 437L595 433L601 437L607 433M553 437V442M589 433V428"/>
<path d="M422 470L428 466L434 470L440 466L446 470L452 466L458 470L464 466M428 466V474M458 466V460"/>
<line x1="495" y1="470" x2="532" y2="470" marker-end="url(#ahs)"/>
<path d="M545 464H612M552 470H600M548 476H608M560 460V476M590 464V476"/>
</g>
<g font-size="4.5" fill="#555">
<text x="418" y="437">H</text><text x="455" y="437">OH</text><text x="459" y="436">+</text>
<text x="500" y="429">Triethylamine</text><text x="498" y="433">Acryloyl chloride</text><text x="503" y="444">CH₂Cl₂</text>
<text x="418" y="450">Polyethylene glycol</text><text x="463" y="450">Acryloyl chloride</text><text x="537" y="450">Polyethylene glycol diacrylate</text>
<text x="507" y="465">I2959</text><text x="505" y="476">UV light</text>
</g>

<!-- ================= Panels D / E ================= -->
<path d="M617 282H807Q815 282 815 290V489Q815 497 807 497H617" fill="none" stroke="#111" stroke-width="3" stroke-dasharray="9 5"/>
<line x1="619" y1="398" x2="815" y2="398" stroke="#111" stroke-width="3" stroke-dasharray="9 5"/>
<text x="620" y="304" font-size="17" font-weight="bold">D</text>
<text x="634" y="301" font-size="11">a</text>
<!-- softwood block -->
<polygon points="638,308 652,302 664,308 650,314" fill="#c8c8c8"/>
<polygon points="638,308 650,314 650,334 638,328" fill="#9a9a9a"/>
<polygon points="650,314 664,308 664,328 650,334" fill="#b0b0b0"/>
<path d="M641 312V328M644 313V330M647 314V331M654 314V330M658 312V329M661 311V328" stroke="#777" stroke-width="0.7"/>
<path d="M635 306L633 324" stroke="#e07080" stroke-width="1.3"/>
<text x="640" y="339" font-size="4.5" fill="#555">Softwood</text>
<text x="632" y="352" font-size="11">d</text>
<polygon points="637,360 652,354 666,360 651,366" fill="#c4c4c4"/>
<polygon points="637,360 651,366 651,388 637,382" fill="#929292"/>
<polygon points="651,366 666,360 666,382 651,388" fill="#a8a8a8"/>
<path d="M640 364V383M643 364V384M646 365V385M655 365V385M659 364V384M663 362V382" stroke="#666" stroke-width="0.9"/>
<path d="M635 358L633 378" stroke="#e07080" stroke-width="1.3"/>
<text x="640" y="392" font-size="4.5" fill="#555">Hardwood</text>
<!-- SEM images -->
<rect x="667" y="285" width="71" height="56" fill="url(#spk)"/>
<rect x="667" y="285" width="71" height="56" fill="url(#semb)"/>
<rect x="703" y="314" width="34" height="26" fill="#b0b0b0" stroke="#eee" stroke-width="0.8" stroke-dasharray="1.5 1"/>
<path d="M707 314V340M712 314V340M718 314V340M724 314V340M730 314V340" stroke="#5a5a5a" stroke-width="1.4"/>
<text x="669" y="296" font-size="11" fill="#111">b</text>
<rect x="738" y="285" width="74" height="56" fill="url(#hol)"/>
<rect x="738" y="285" width="74" height="56" fill="#000" opacity=".25"/>
<rect x="775" y="313" width="35" height="26" fill="url(#hol2)" stroke="#eee" stroke-width="0.8" stroke-dasharray="1.5 1"/>
<text x="740" y="296" font-size="11" fill="#111">c</text>
<rect x="667" y="341" width="71" height="56" fill="url(#spk)"/>
<rect x="667" y="341" width="71" height="56" fill="#000" opacity=".15"/>
<rect x="703" y="366" width="34" height="30" fill="#8a8a8a" stroke="#eee" stroke-width="0.8" stroke-dasharray="1.5 1"/>
<rect x="716" y="366" width="8" height="30" fill="#222"/>
<text x="669" y="352" font-size="11" fill="#111">e</text>
<rect x="738" y="341" width="74" height="56" fill="url(#spots)"/>
<ellipse cx="787" cy="378" rx="10" ry="13" fill="#050505"/>
<circle cx="804" cy="382" r="5" fill="none" stroke="#333" stroke-width="0.8"/>
<text x="740" y="352" font-size="11" fill="#111">f</text>
<path d="M667 341H812M738 285V397" stroke="#fff" stroke-width="1"/>
<!-- E -->
<rect x="615" y="403" width="18" height="15" fill="#fff"/>
<text x="617" y="417" font-size="17" font-weight="bold">E</text>
<rect x="633" y="402" width="27" height="95" fill="#e6dabc"/>
<rect x="660" y="402" width="28" height="95" fill="url(#cells)"/>
<path d="M633 431H688M633 459H688M660 402V497" stroke="#fff" stroke-width="1"/>
<g fill="#2a3a5a">
<ellipse cx="642" cy="412" rx="1.6" ry="1.2"/><ellipse cx="652" cy="414" rx="1.6" ry="1.2"/><ellipse cx="645" cy="422" rx="1.6" ry="1.2"/><ellipse cx="656" cy="425" rx="1.6" ry="1.2"/><ellipse cx="638" cy="427" rx="1.6" ry="1.2"/>
<ellipse cx="641" cy="438" rx="2" ry="1"/><ellipse cx="652" cy="441" rx="2" ry="1"/><ellipse cx="644" cy="447" rx="2" ry="1"/><ellipse cx="655" cy="452" rx="2" ry="1"/><ellipse cx="638" cy="454" rx="2" ry="1"/>
<ellipse cx="641" cy="466" rx="2.2" ry="1"/><ellipse cx="652" cy="470" rx="2.2" ry="1"/><ellipse cx="644" cy="478" rx="2.2" ry="1"/><ellipse cx="655" cy="483" rx="2.2" ry="1"/><ellipse cx="640" cy="489" rx="2.2" ry="1"/><ellipse cx="653" cy="492" rx="2.2" ry="1"/>
</g>
<g font-size="10" fill="#111"><text x="626" y="413">a</text><text x="625" y="441">b</text><text x="625" y="470">c</text></g>
<!-- d chart -->
<text x="690" y="411" font-size="10">d</text>
<rect x="698" y="402" width="52" height="40" fill="#fff" stroke="#888" stroke-width="0.8"/>
<g fill="none" stroke-width="0.8">
<path d="M700 409L712 409L716 405L720 409L735 409L739 404L743 409L750 409" stroke="#6ab0e0"/>
<path d="M700 416L712 416L716 412L720 416L735 416L739 411L743 416L750 416" stroke="#3a80c8"/>
<path d="M700 423L712 423L716 419L720 423L735 423L739 418L743 423L750 423" stroke="#e06060"/>
<path d="M700 429L712 429L716 426L720 429L735 429L739 425L743 429L750 429" stroke="#f0a0a0"/>
<path d="M700 436L712 436L716 433L720 436L735 436L739 433L743 436L750 436" stroke="#aaa"/>
</g>
<!-- e chart -->
<text x="751" y="411" font-size="10">e</text>
<rect x="758" y="402" width="54" height="40" fill="#fff" stroke="#888" stroke-width="0.8"/>
<g>
<rect x="762" y="434" width="2" height="6" fill="#2a9a4a"/><rect x="764" y="435" width="2" height="5" fill="#f08a3c"/><rect x="766" y="432" width="2" height="8" fill="#1f5fa8"/><rect x="768" y="433" width="2" height="7" fill="#3a80c8"/><rect x="770" y="434" width="2" height="6" fill="#5a9ad8"/><rect x="772" y="436" width="2" height="4" fill="#8ab8e8"/>
<rect x="778" y="431" width="2" height="9" fill="#2a9a4a"/><rect x="780" y="428" width="2" height="12" fill="#f08a3c"/><rect x="782" y="430" width="2" height="10" fill="#1f5fa8"/><rect x="784" y="433" width="2" height="7" fill="#3a80c8"/><rect x="786" y="431" width="2" height="9" fill="#5a9ad8"/><rect x="788" y="434" width="2" height="6" fill="#8ab8e8"/>
<rect x="795" y="432" width="2" height="8" fill="#2a9a4a"/><rect x="797" y="422" width="2.5" height="18" fill="#f08a3c"/><rect x="799.5" y="430" width="2" height="10" fill="#1f5fa8"/><rect x="801.5" y="428" width="2" height="12" fill="#3a80c8"/><rect x="803.5" y="431" width="2" height="9" fill="#5a9ad8"/><rect x="805.5" y="429" width="2" height="11" fill="#2f6fb3"/>
</g>
<g><rect x="762" y="405" width="3" height="2" fill="#2a9a4a"/><rect x="762" y="408" width="3" height="2" fill="#f08a3c"/><rect x="762" y="411" width="3" height="2" fill="#1f5fa8"/><rect x="762" y="414" width="3" height="2" fill="#3a80c8"/><rect x="762" y="417" width="3" height="2" fill="#5a9ad8"/></g>
<!-- f chart -->
<text x="692" y="457" font-size="10">f</text>
<rect x="698" y="448" width="52" height="42" fill="#fff" stroke="#888" stroke-width="0.8"/>
<g>
<rect x="703" y="474" width="3" height="14" fill="#3a80c8"/><rect x="706" y="475" width="3" height="13" fill="#f08a3c"/><rect x="709" y="477" width="3" height="11" fill="#2a9a4a"/><rect x="712" y="455" width="3.5" height="33" fill="#1f5fa8"/><rect x="715.5" y="459" width="3.5" height="29" fill="#3a80c8"/><rect x="719" y="466" width="3" height="22" fill="#5a9ad8"/>
<rect x="734" y="485" width="2" height="3" fill="#f08a3c"/><rect x="736" y="486" width="2" height="2" fill="#3a80c8"/><rect x="738" y="487" width="2" height="1" fill="#1f5fa8"/>
</g>
<g><rect x="734" y="451" width="3" height="2" fill="#2a9a4a"/><rect x="734" y="454" width="3" height="2" fill="#f08a3c"/><rect x="734" y="457" width="3" height="2" fill="#1f5fa8"/><rect x="734" y="460" width="3" height="2" fill="#3a80c8"/><rect x="734" y="463" width="3" height="2" fill="#5a9ad8"/></g>
<!-- g chart -->
<text x="751" y="457" font-size="10">g</text>
<rect x="758" y="448" width="54" height="42" fill="#fff" stroke="#888" stroke-width="0.8"/>
<g>
<rect x="762" y="478" width="2.5" height="10" fill="#2a9a4a"/><rect x="764.5" y="470" width="2.5" height="18" fill="#f08a3c"/><rect x="767" y="474" width="2.5" height="14" fill="#1f5fa8"/><rect x="769.5" y="478" width="2.5" height="10" fill="#3a80c8"/><rect x="772" y="480" width="2.5" height="8" fill="#5a9ad8"/><rect x="774.5" y="482" width="2.5" height="6" fill="#8ab8e8"/>
<rect x="784" y="480" width="2.5" height="8" fill="#2a9a4a"/><rect x="786.5" y="458" width="3" height="30" fill="#f08a3c"/><rect x="789.5" y="470" width="2.5" height="18" fill="#1f5fa8"/><rect x="792" y="476" width="2.5" height="12" fill="#3a80c8"/><rect x="794.5" y="478" width="2.5" height="10" fill="#5a9ad8"/><rect x="797" y="476" width="3" height="12" fill="#2f6fb3"/>
</g>
<g><rect x="762" y="451" width="3" height="2" fill="#2a9a4a"/><rect x="762" y="454" width="3" height="2" fill="#f08a3c"/><rect x="762" y="457" width="3" height="2" fill="#1f5fa8"/><rect x="762" y="460" width="3" height="2" fill="#3a80c8"/></g>
<path d="M786 456H800V470" fill="none" stroke="#555" stroke-width="0.4"/>
</svg>
</body></html>
